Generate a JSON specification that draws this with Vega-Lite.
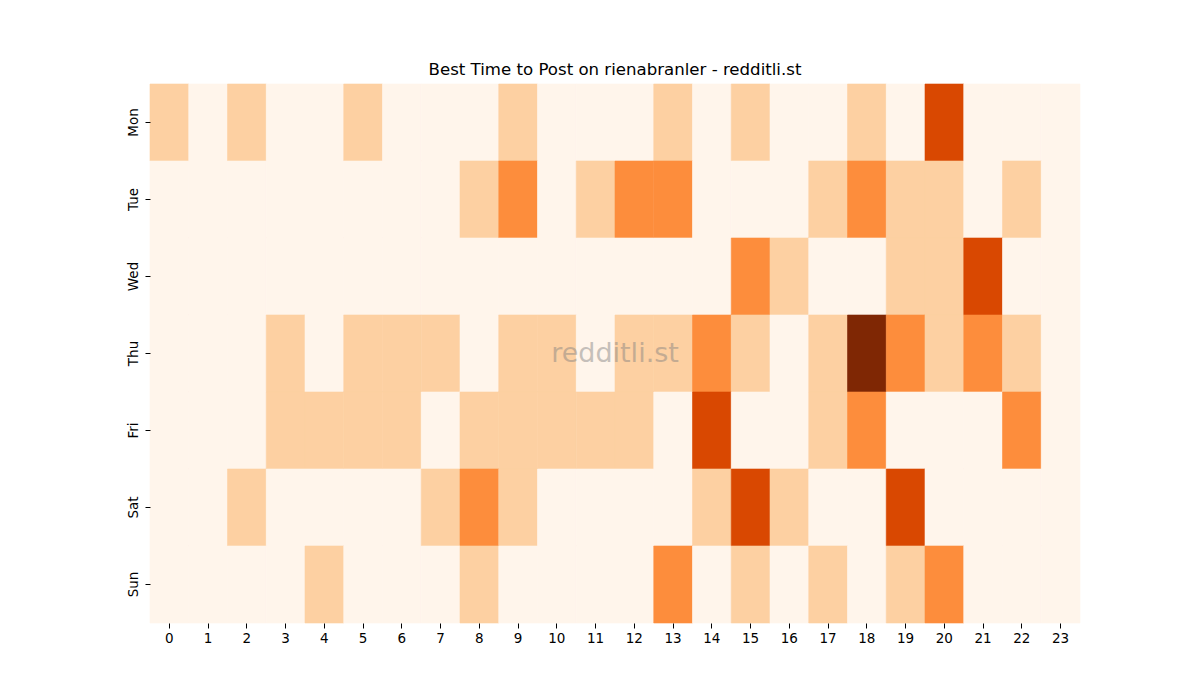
{
"$schema": "https://vega.github.io/schema/vega-lite/v6.json",
"width": 930, "height": 539,
"autosize": {"type": "none"},
"padding": {"left": 150, "top": 84, "right": 120, "bottom": 77},
"background": "white",
"config": {"font": "DejaVu Sans", "view": {"stroke": null}},
"title": {"text": "Best Time to Post on rienabranler - redditli.st", "fontSize": 16.6, "fontWeight": "normal", "color": "black", "font": "DejaVu Sans", "offset": 5, "anchor": "middle"},
"datasets": {
"cells": [
{"d":"Mon","h":0,"v":1},{"d":"Mon","h":1,"v":0},{"d":"Mon","h":2,"v":1},{"d":"Mon","h":3,"v":0},{"d":"Mon","h":4,"v":0},{"d":"Mon","h":5,"v":1},{"d":"Mon","h":6,"v":0},{"d":"Mon","h":7,"v":0},{"d":"Mon","h":8,"v":0},{"d":"Mon","h":9,"v":1},{"d":"Mon","h":10,"v":0},{"d":"Mon","h":11,"v":0},{"d":"Mon","h":12,"v":0},{"d":"Mon","h":13,"v":1},{"d":"Mon","h":14,"v":0},{"d":"Mon","h":15,"v":1},{"d":"Mon","h":16,"v":0},{"d":"Mon","h":17,"v":0},{"d":"Mon","h":18,"v":1},{"d":"Mon","h":19,"v":0},{"d":"Mon","h":20,"v":3},{"d":"Mon","h":21,"v":0},{"d":"Mon","h":22,"v":0},{"d":"Mon","h":23,"v":0},
{"d":"Tue","h":0,"v":0},{"d":"Tue","h":1,"v":0},{"d":"Tue","h":2,"v":0},{"d":"Tue","h":3,"v":0},{"d":"Tue","h":4,"v":0},{"d":"Tue","h":5,"v":0},{"d":"Tue","h":6,"v":0},{"d":"Tue","h":7,"v":0},{"d":"Tue","h":8,"v":1},{"d":"Tue","h":9,"v":2},{"d":"Tue","h":10,"v":0},{"d":"Tue","h":11,"v":1},{"d":"Tue","h":12,"v":2},{"d":"Tue","h":13,"v":2},{"d":"Tue","h":14,"v":0},{"d":"Tue","h":15,"v":0},{"d":"Tue","h":16,"v":0},{"d":"Tue","h":17,"v":1},{"d":"Tue","h":18,"v":2},{"d":"Tue","h":19,"v":1},{"d":"Tue","h":20,"v":1},{"d":"Tue","h":21,"v":0},{"d":"Tue","h":22,"v":1},{"d":"Tue","h":23,"v":0},
{"d":"Wed","h":0,"v":0},{"d":"Wed","h":1,"v":0},{"d":"Wed","h":2,"v":0},{"d":"Wed","h":3,"v":0},{"d":"Wed","h":4,"v":0},{"d":"Wed","h":5,"v":0},{"d":"Wed","h":6,"v":0},{"d":"Wed","h":7,"v":0},{"d":"Wed","h":8,"v":0},{"d":"Wed","h":9,"v":0},{"d":"Wed","h":10,"v":0},{"d":"Wed","h":11,"v":0},{"d":"Wed","h":12,"v":0},{"d":"Wed","h":13,"v":0},{"d":"Wed","h":14,"v":0},{"d":"Wed","h":15,"v":2},{"d":"Wed","h":16,"v":1},{"d":"Wed","h":17,"v":0},{"d":"Wed","h":18,"v":0},{"d":"Wed","h":19,"v":1},{"d":"Wed","h":20,"v":1},{"d":"Wed","h":21,"v":3},{"d":"Wed","h":22,"v":0},{"d":"Wed","h":23,"v":0},
{"d":"Thu","h":0,"v":0},{"d":"Thu","h":1,"v":0},{"d":"Thu","h":2,"v":0},{"d":"Thu","h":3,"v":1},{"d":"Thu","h":4,"v":0},{"d":"Thu","h":5,"v":1},{"d":"Thu","h":6,"v":1},{"d":"Thu","h":7,"v":1},{"d":"Thu","h":8,"v":0},{"d":"Thu","h":9,"v":1},{"d":"Thu","h":10,"v":1},{"d":"Thu","h":11,"v":0},{"d":"Thu","h":12,"v":1},{"d":"Thu","h":13,"v":1},{"d":"Thu","h":14,"v":2},{"d":"Thu","h":15,"v":1},{"d":"Thu","h":16,"v":0},{"d":"Thu","h":17,"v":1},{"d":"Thu","h":18,"v":4},{"d":"Thu","h":19,"v":2},{"d":"Thu","h":20,"v":1},{"d":"Thu","h":21,"v":2},{"d":"Thu","h":22,"v":1},{"d":"Thu","h":23,"v":0},
{"d":"Fri","h":0,"v":0},{"d":"Fri","h":1,"v":0},{"d":"Fri","h":2,"v":0},{"d":"Fri","h":3,"v":1},{"d":"Fri","h":4,"v":1},{"d":"Fri","h":5,"v":1},{"d":"Fri","h":6,"v":1},{"d":"Fri","h":7,"v":0},{"d":"Fri","h":8,"v":1},{"d":"Fri","h":9,"v":1},{"d":"Fri","h":10,"v":1},{"d":"Fri","h":11,"v":1},{"d":"Fri","h":12,"v":1},{"d":"Fri","h":13,"v":0},{"d":"Fri","h":14,"v":3},{"d":"Fri","h":15,"v":0},{"d":"Fri","h":16,"v":0},{"d":"Fri","h":17,"v":1},{"d":"Fri","h":18,"v":2},{"d":"Fri","h":19,"v":0},{"d":"Fri","h":20,"v":0},{"d":"Fri","h":21,"v":0},{"d":"Fri","h":22,"v":2},{"d":"Fri","h":23,"v":0},
{"d":"Sat","h":0,"v":0},{"d":"Sat","h":1,"v":0},{"d":"Sat","h":2,"v":1},{"d":"Sat","h":3,"v":0},{"d":"Sat","h":4,"v":0},{"d":"Sat","h":5,"v":0},{"d":"Sat","h":6,"v":0},{"d":"Sat","h":7,"v":1},{"d":"Sat","h":8,"v":2},{"d":"Sat","h":9,"v":1},{"d":"Sat","h":10,"v":0},{"d":"Sat","h":11,"v":0},{"d":"Sat","h":12,"v":0},{"d":"Sat","h":13,"v":0},{"d":"Sat","h":14,"v":1},{"d":"Sat","h":15,"v":3},{"d":"Sat","h":16,"v":1},{"d":"Sat","h":17,"v":0},{"d":"Sat","h":18,"v":0},{"d":"Sat","h":19,"v":3},{"d":"Sat","h":20,"v":0},{"d":"Sat","h":21,"v":0},{"d":"Sat","h":22,"v":0},{"d":"Sat","h":23,"v":0},
{"d":"Sun","h":0,"v":0},{"d":"Sun","h":1,"v":0},{"d":"Sun","h":2,"v":0},{"d":"Sun","h":3,"v":0},{"d":"Sun","h":4,"v":1},{"d":"Sun","h":5,"v":0},{"d":"Sun","h":6,"v":0},{"d":"Sun","h":7,"v":0},{"d":"Sun","h":8,"v":1},{"d":"Sun","h":9,"v":0},{"d":"Sun","h":10,"v":0},{"d":"Sun","h":11,"v":0},{"d":"Sun","h":12,"v":0},{"d":"Sun","h":13,"v":2},{"d":"Sun","h":14,"v":0},{"d":"Sun","h":15,"v":1},{"d":"Sun","h":16,"v":0},{"d":"Sun","h":17,"v":1},{"d":"Sun","h":18,"v":0},{"d":"Sun","h":19,"v":1},{"d":"Sun","h":20,"v":2},{"d":"Sun","h":21,"v":0},{"d":"Sun","h":22,"v":0},{"d":"Sun","h":23,"v":0}
],
"mark": [{"label": "redditli.st", "d": "Thu", "h": 12}]
},
"layer": [
{
"data": {"name": "cells"},
"mark": {"type": "rect", "strokeWidth": 0.6},
"encoding": {
"x": {"field": "h", "type": "ordinal", "sort": "ascending", "scale": {"paddingInner": 0, "paddingOuter": 0},
"axis": {"title": null, "labelAngle": 0, "labelFontSize": 13.5, "labelColor": "black", "tickColor": "black", "tickSize": 5, "tickWidth": 1, "labelPadding": 3, "domain": false, "labelFont": "DejaVu Sans"}},
"y": {"field": "d", "type": "ordinal", "sort": ["Mon","Tue","Wed","Thu","Fri","Sat","Sun"], "scale": {"paddingInner": 0, "paddingOuter": 0},
"axis": {"title": null, "labelAngle": -90, "labelAlign": "center", "labelBaseline": "bottom", "labelFontSize": 13.5, "labelColor": "black", "tickColor": "black", "tickSize": 5, "tickWidth": 1, "labelPadding": 5, "domain": false, "labelFont": "DejaVu Sans"}},
"color": {"field": "v", "type": "ordinal", "legend": null,
"scale": {"domain": [0,1,2,3,4], "range": ["#fff5eb", "#fdd0a2", "#fd8d3c", "#d94801", "#7f2704"]}},
"stroke": {"field": "v", "type": "ordinal", "legend": null,
"scale": {"domain": [0,1,2,3,4], "range": ["#fff5eb", "#fdd0a2", "#fd8d3c", "#d94801", "#7f2704"]}}
}
},
{
"data": {"name": "mark"},
"mark": {"type": "text", "fontSize": 27, "font": "DejaVu Sans", "color": "#808080", "opacity": 0.45, "align": "center", "baseline": "middle"},
"encoding": {
"x": {"field": "h", "type": "ordinal", "bandPosition": 0},
"y": {"field": "d", "type": "ordinal", "sort": ["Mon","Tue","Wed","Thu","Fri","Sat","Sun"]},
"text": {"field": "label"}
}
}
]
}
